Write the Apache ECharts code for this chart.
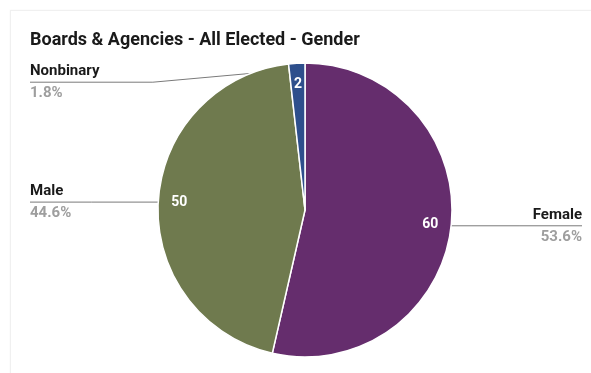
<!DOCTYPE html>
<html>
<head>
<meta charset="utf-8">
<script src="https://cdn.jsdelivr.net/npm/echarts@6/dist/echarts.min.js"></script>
<style>
html,body{margin:0;padding:0;background:#fff;overflow:hidden;}
#card{position:absolute;left:10px;top:10px;width:640px;height:420px;border-top:1px solid #f0f0f0;border-left:1px solid #f0f0f0;box-shadow:0 0 2px rgba(0,0,0,0.04);}
#chart{position:absolute;left:0;top:0;width:591px;height:373px;}
</style>
</head>
<body>
<div id="card"></div>
<div id="chart"></div>
<script>
// ---- data ----
const titleText = 'Boards & Agencies - All Elected - Gender';
const categories = ['Female', 'Male', 'Nonbinary'];
const values = [60, 50, 2];

// ---- styles ----
const sliceColors = ['#652D6D', '#6F7A4E', '#2E4F8C'];
const labelEdge = [9, 30, 30];      // distance of outer labels from chart edge
const labelLineLen = [0, 0, -13];   // radial part of leader line
const FONT = 'Roboto, "Noto Sans", sans-serif';

const chart = echarts.init(document.getElementById('chart'), null, { renderer: 'canvas' });

const center = [305, 210];

const baseData = categories.map((name, i) => ({ name: name, value: values[i] }));

const option = {
  animation: false,
  title: {
    text: titleText,
    left: 30,
    top: 31,
    padding: 0,
    textStyle: { fontFamily: FONT, fontSize: 18, fontWeight: 'bold', color: '#1a1a1a' }
  },
  series: [
    {
      // visible slices
      type: 'pie',
      silent: true,
      center: center,
      radius: [0, 147],
      startAngle: 90,
      clockwise: true,
      label: { show: false },
      labelLine: { show: false },
      itemStyle: { borderColor: '#ffffff', borderWidth: 1.5 },
      emphasis: { disabled: true },
      data: baseData.map((d, i) => ({ name: d.name, value: d.value, itemStyle: { color: sliceColors[i] } }))
    },
    {
      // value labels inside slices
      type: 'pie',
      silent: true,
      center: center,
      radius: [100, 146],
      startAngle: 90,
      clockwise: true,
      itemStyle: { color: 'rgba(0,0,0,0)', borderWidth: 0 },
      label: {
        show: true,
        position: 'inside',
        formatter: '{c}',
        color: '#ffffff',
        fontFamily: FONT,
        fontSize: 14,
        fontWeight: 'bold',
        padding: [11, 0, 0, 0]
      },
      labelLine: { show: false },
      emphasis: { disabled: true },
      data: baseData.map(d => ({ name: d.name, value: d.value }))
    },
    {
      // outer name / percent labels with leader lines
      type: 'pie',
      silent: true,
      center: center,
      radius: [0, 141],
      startAngle: 90,
      clockwise: true,
      percentPrecision: 1,
      avoidLabelOverlap: true,
      itemStyle: { color: 'rgba(0,0,0,0)', borderWidth: 0 },
      label: {
        show: true,
        position: 'outside',
        alignTo: 'edge',
        distanceToLabelLine: 0,
        overflow: 'none',
        formatter: '{n|{b}}\n{p|{d}%}',
        rich: {
          n: { fontFamily: FONT, fontSize: 15, fontWeight: 'bold', color: '#1a1a1a', lineHeight: 22 },
          p: { fontFamily: FONT, fontSize: 15, fontWeight: 'bold', color: '#9e9e9e', lineHeight: 22 }
        }
      },
      labelLine: {
        show: true,
        length2: 10,
        smooth: false,
        lineStyle: { color: '#7a7a7a', width: 1 }
      },
      labelLayout: function (p) {
        const pts = p.labelLinePoints;
        const r = p.labelRect;
        if (!pts || pts.length < 3 || !r) return {};
        const a = pts[0];
        const isLeft = pts[2][0] < a[0];
        const y = pts[2][1];
        const endX = isLeft ? r.x : r.x + r.width;
        const bend = [endX + (a[0] - endX) * 0.46, y];
        return { labelLinePoints: [a, bend, [endX, y]] };
      },
      emphasis: { disabled: true },
      data: baseData.map((d, i) => ({
        name: d.name,
        value: d.value,
        label: { edgeDistance: labelEdge[i] },
        labelLine: { length: labelLineLen[i] }
      }))
    }
  ]
};

chart.setOption(option);
</script>
</body>
</html>
